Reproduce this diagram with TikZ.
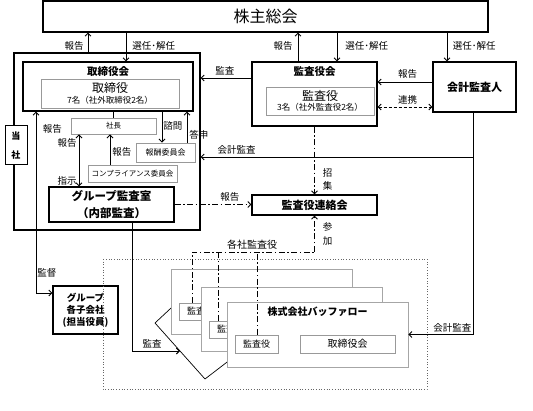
\documentclass[tikz,border=0pt]{standalone}
\usepackage{fontspec}
\setmainfont{Noto Sans CJK JP}
\usetikzlibrary{calc,positioning,arrows.meta}
\newcommand\jfs[1]{\fontsize{#1}{#1}\selectfont}
\tikzset{
	box/.style={draw, line width=1.1pt, fill=white, inner sep=0pt, align=center},
	gbox/.style={draw=black!40, line width=0.8pt, fill=white, inner sep=0pt, align=center},
	cbox/.style={draw=black!35, line width=0.7pt, fill=white, inner sep=0pt},
	ttl/.style={font=\jfs{10.5}\bfseries, inner sep=1pt},
	lbl/.style={font=\jfs{9.5}, inner sep=1pt, align=center},
	ddline/.style={dash pattern=on 6pt off 2.5pt on 1.5pt off 2.5pt},
	>={Straight Barb[length=3pt,width=6pt]},
}

\begin{document}
\begin{tikzpicture}[x=1pt, y=-1pt, line width=0.9pt]
		%%%%% START %%%%%
		\useasboundingbox (0,0) rectangle (533,411);
		
		\node[box, minimum width=445pt, minimum height=31pt, font=\jfs{16}] (kabu) at (265.5,16.5) {株主総会};
		
		% 当社
		\node[draw, line width=1.1pt, minimum width=186pt, minimum height=177pt, inner sep=0pt] (tosha) at (107,141.5) {};
		\node[box, line width=1pt, minimum width=22pt, minimum height=39pt, font=\jfs{9}\bfseries] (toshabox) at (16,145.5) {当\\[10pt]社};
		
		\node[box, minimum width=170pt, minimum height=49pt] (torikai) at (108,86.5) {};
		\node[ttl, below=4pt of torikai.north] {取締役会};
		\node[gbox, minimum width=138pt, minimum height=29pt, font=\jfs{8.5}] (yakuin) at (110,93.5) {{\jfs{12}取締役}\\[2pt]7名（社外取締役2名）};
		\node[gbox, minimum width=85pt, minimum height=16pt, font=\jfs{7.5}] (shacho) at (113.5,126) {社長};
		\node[gbox, minimum width=59pt, minimum height=19pt, font=\jfs{8}] (hoshu) at (165.5,152.5) {報酬委員会};
		\node[gbox, minimum width=89pt, minimum height=17pt, font=\jfs{7.5}] (comp) at (132.5,173.5) {コンプライアンス委員会};
		\node[box, minimum width=125pt, minimum height=35pt, font=\jfs{11.5}\bfseries] (kansashitsu) at (111.5,204.5) {グループ監査室\\[5pt]（内部監査）};
		
		% 監査役会・会計監査人
		\node[box, minimum width=125pt, minimum height=64pt] (kansayakukai) at (314.5,94) {};
		\node[ttl, below=4pt of kansayakukai.north] {監査役会};
		\node[gbox, minimum width=108pt, minimum height=28pt, font=\jfs{8.5}] (kansayaku) at (320,101) {{\jfs{12}監査役}\\[2pt]3名（社外監査役2名）};
		\node[box, minimum width=83pt, minimum height=50pt, font=\jfs{11}\bfseries] (kaikei) at (474.5,87) {会計監査人};
		\node[box, minimum width=125pt, minimum height=20pt, font=\jfs{11}\bfseries] (renraku) at (314.5,205) {監査役連絡会};
		\node[box, minimum width=65pt, minimum height=48pt, font=\jfs{9.5}\bfseries] (kogaisha) at (85.5,310) {グループ\\[2.5pt]各子会社\\[2.5pt](担当役員)};
		
		% 子会社
		\draw[dotted, black!60, line width=0.7pt] (103,259) rectangle (427,389);
		\draw[line width=0.7pt] (185,295) -- (155,323) coordinate (z2) -- (205,379) coordinate (z3) -- (235,356);
		\node[cbox, minimum width=181pt, minimum height=65pt] (co1) at (261.5,301.5) {};
		\node[gbox, minimum width=43pt, minimum height=17pt, font=\jfs{9}] (k1) at (200.5,311.5) {監査役};
		\node[cbox, minimum width=181pt, minimum height=64pt] (co2) at (291.5,319) {};
		\node[gbox, minimum width=43pt, minimum height=17pt, font=\jfs{9}] (k2) at (230.5,329.5) {監査役};
		\node[cbox, minimum width=181pt, minimum height=65pt] (co3) at (317.5,334.5) {};
		\node[ttl, font=\jfs{10}\bfseries, below=4pt of co3.north] {株式会社バッファロー};
		\node[gbox, minimum width=43pt, minimum height=18pt, font=\jfs{9}] (k3) at (256.5,344) {監査役};
		\node[gbox, minimum width=95pt, minimum height=18pt, font=\jfs{10}] (torikai3) at (347.5,344) {取締役会};
		
		% 株主総会との矢印
		\draw[->] (tosha.north -| 88,0) -- node[lbl, pos=0.35, left=3pt] {報告} (kabu.south -| 88,0);
		\draw[->] (kabu.south -| 126,0) -- node[lbl, pos=0.47, right=5pt] {選任･解任} (torikai.north -| 126,0);
		\draw[->] (kansayakukai.north -| 298,0) -- node[lbl, pos=0.53, left=4pt] {報告} (kabu.south -| 298,0);
		\draw[->] (kabu.south -| 337,0) -- node[lbl, pos=0.47, right=7pt] {選任･解任} (kansayakukai.north -| 337,0);
		\draw[->] (kabu.south -| 447,0) -- node[lbl, pos=0.47, right=4.5pt] {選任･解任} (kaikei.north -| 447,0);
		
		\draw[->] (kansayakukai.west |- 0,78) -- node[lbl, pos=0.52, above=1pt] {監査} (tosha.east |- 0,78);
		\draw[->] (kaikei.west |- 0,82) -- node[lbl, pos=0.45, above=2pt] {報告} (kansayakukai.east |- 0,82);
		\draw[<->, dash pattern=on 3pt off 2pt] (kansayakukai.east |- 0,107) -- node[lbl, pos=0.55, above=1pt] {連携} (kaikei.west |- 0,107);
		\draw[->] (kaikei.south -| 473,0) |- node[lbl, pos=0.934, above=1pt] {会計監査} (tosha.east |- 0,157);
		\draw[->] (kaikei.south -| 473,0) |- node[lbl, pos=0.66, above=1pt] {会計監査} (co3.east);
		
		% 当社の中
		\draw (shacho.north) -- (shacho.north |- torikai.south);
		\draw[->] (torikai.south -| 162,0) -- node[lbl, pos=0.47, right=0pt] {諮問} (hoshu.north -| 162,0);
		\draw[->] (hoshu.north -| 187,0) -- node[lbl, pos=0.25, right=1pt] {答申} (torikai.south -| 187,0);
		\draw[->] (comp.north -| 110,0) -- node[lbl, pos=0.42, right=1pt] {報告} (shacho.south -| 110,0);
		\draw[<->] (shacho.south -| 79,0) -- node[lbl, pos=0.17, left=1pt] {報告} node[lbl, pos=0.89, left=1pt] {指示} (kansashitsu.north -| 79,0);
		\draw[<->] (torikai.south -| 36,0) |- node[lbl, pos=0.047, right=5.5pt] {報告} node[lbl, pos=0.445, right=0pt] {監督} (kogaisha.west |- 0,293);
		\draw[->] (kansashitsu.south -| 132,0) |- node[lbl, pos=0.71, above=1pt] {監査} ($(z2)!0.5!(z3)$);
		
		% 監査役連絡会
		\draw[->, ddline] (kansashitsu.east) -- node[lbl, pos=0.72, above=2pt] {報告} (renraku.west |- kansashitsu.east);
		\draw[->, ddline] (kansayakukai.south) -- node[lbl, pos=0.78, right=7pt] {招\\[4pt]集} (renraku.north);
		\coordinate (sanka) at (314.5,252);
		\draw[ddline] (k1.north -| 192,0) |- node[lbl, pos=0.745, above=1pt, font=\jfs{10}] {各社監査役} (sanka);
		\draw[ddline] (k2.north -| 218,0) -- (sanka -| 218,0);
		\draw[ddline] (k3.north -| 257,0) -- (sanka -| 257,0);
		\draw[->, ddline] (sanka) -- node[lbl, right=7pt] {参\\[4pt]加} (renraku.south);
		
		%%%%% END %%%%%
	\end{tikzpicture}
\end{document}
